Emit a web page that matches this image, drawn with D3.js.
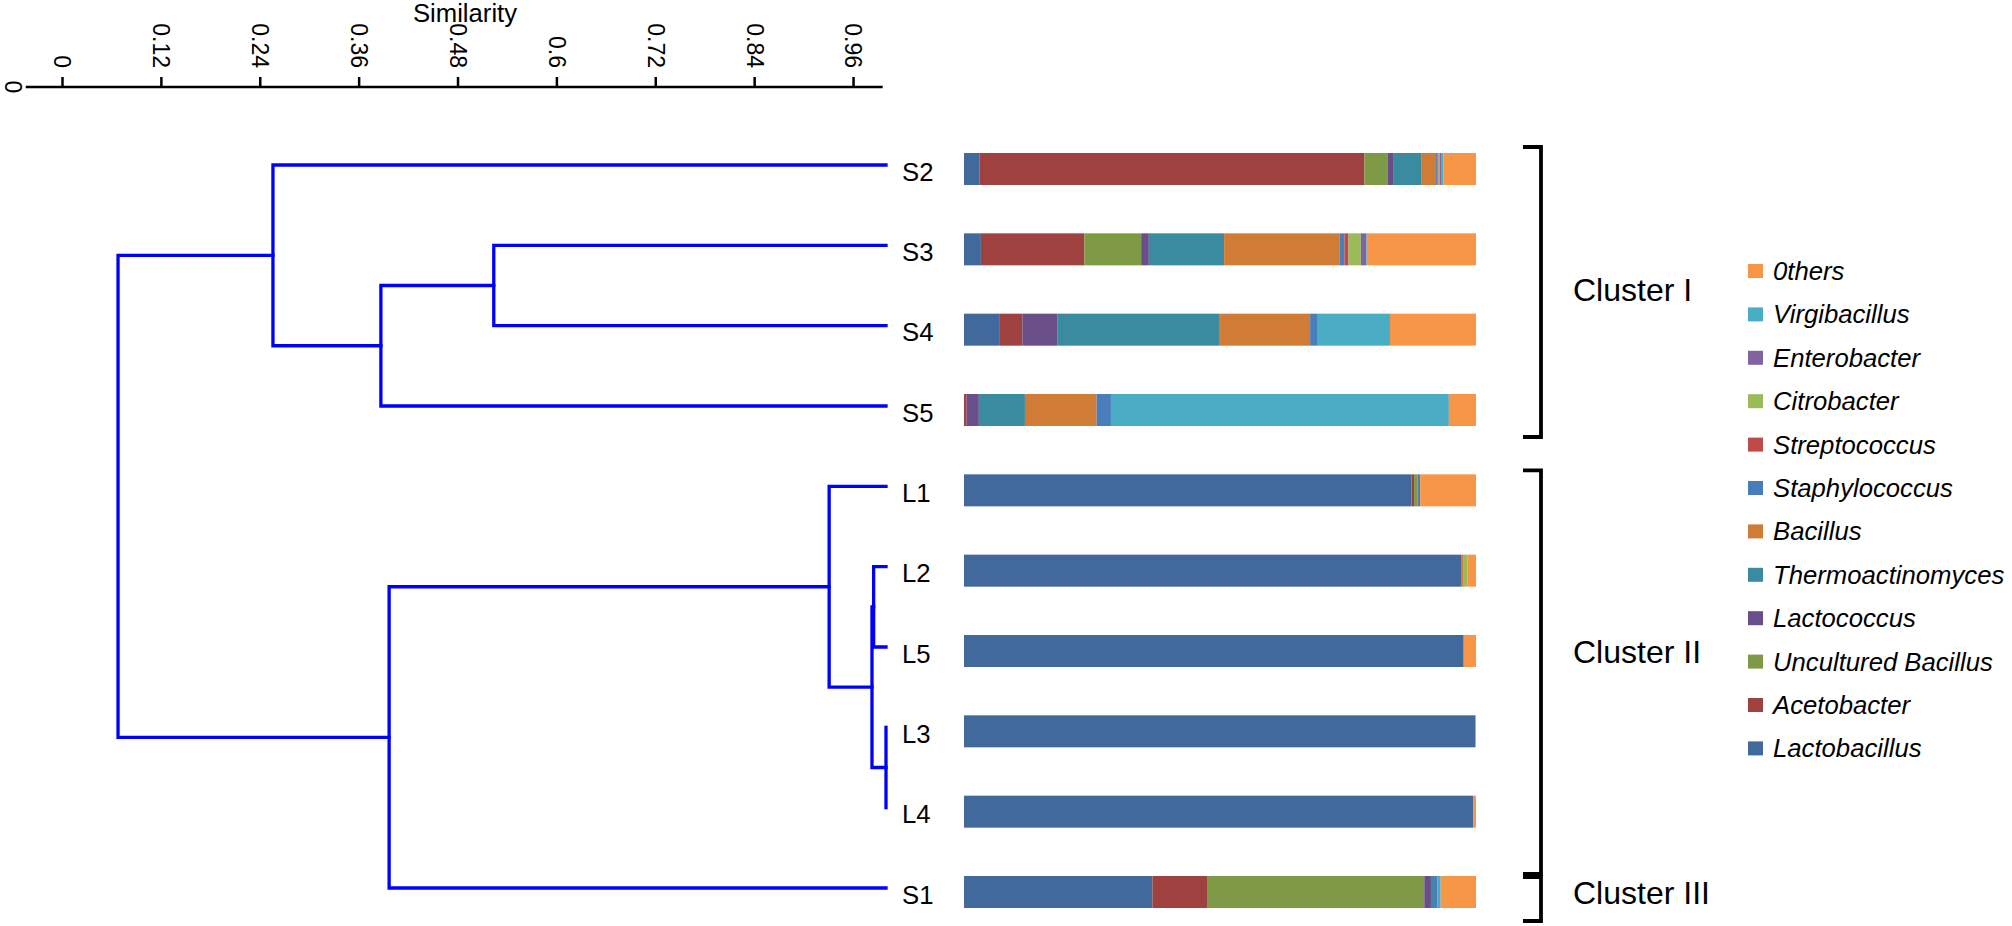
<!DOCTYPE html>
<html>
<head>
<meta charset="utf-8">
<script src="https://cdn.jsdelivr.net/npm/d3@7"></script>
<style>
  body { margin: 0; background: #fff; }
  svg { display: block; font-family: 'Liberation Sans', Arial, sans-serif; }
</style>
</head>
<body>
<div id="container"></div>
<script>
const w = 2012
const h = 926

// samples top to bottom (dendrogram leaf order)
const samples = ['S2', 'S3', 'S4', 'S5', 'L1', 'L2', 'L5', 'L3', 'L4', 'S1']

// genera in stacking order, left to right
const genera = ['Lactobacillus', 'Acetobacter', 'Uncultured Bacillus', 'Lactococcus', 'Thermoactinomyces',
  'Bacillus', 'Staphylococcus', 'Streptococcus', 'Citrobacter', 'Enterobacter', 'Virgibacillus', '0thers']
const generaColors = ['#41699c', '#9f413f', '#7e9a47', '#694e8a', '#3a8aa0',
  '#d17c36', '#4a7ebb', '#be4b48', '#9bbb59', '#8064a2', '#4bacc6', '#f79646']

// relative abundance (%), same order as genera
const S2 = [3.0, 75.2, 4.5, 1.1, 5.6, 2.8, 0.3, 0.2, 0.2, 0.4, 0.3, 6.4]
const S3 = [3.3, 20.2, 11.1, 1.5, 14.7, 22.6, 0.9, 0.8, 2.4, 1.1, 0.1, 21.3]
const S4 = [7.0, 4.4, 0, 6.8, 31.6, 17.8, 1.5, 0, 0, 0, 14.1, 16.8]
const S5 = [0, 0.5, 0, 2.4, 9.0, 14.0, 2.8, 0, 0, 0, 66.0, 5.3]
const L1 = [87.4, 0.5, 0.7, 0, 0, 0, 0.5, 0, 0, 0, 0, 10.9]
const L2 = [97.2, 0, 0, 0, 0, 0.4, 0, 0, 0.7, 0, 0, 1.7]
const L5 = [97.6, 0, 0, 0, 0, 0, 0, 0, 0, 0, 0, 2.4]
const L3 = [99.8, 0, 0, 0, 0, 0, 0, 0, 0, 0, 0, 0.2]
const L4 = [99.5, 0, 0, 0, 0, 0, 0, 0, 0, 0, 0, 0.5]
const S1 = [36.8, 10.8, 42.3, 1.3, 0.6, 0, 0.7, 0, 0, 0, 0.6, 6.9]

// similarity axis ticks
const simTicks = [0, 0.12, 0.24, 0.36, 0.48, 0.6, 0.72, 0.84, 0.96]

// dendrogram merges: [node, child a, child b, similarity]
const merges = [
  ['L34', 'L3', 'L4', 1.0],
  ['L25', 'L2', 'L5', 0.985],
  ['L2345', 'L25', 'L34', 0.983],
  ['Lall', 'L1', 'L2345', 0.931],
  ['S34', 'S3', 'S4', 0.524],
  ['S345', 'S34', 'S5', 0.387],
  ['Sgrp', 'S2', 'S345', 0.256],
  ['LS1', 'Lall', 'S1', 0.397],
  ['root', 'Sgrp', 'LS1', 0.068]
]
const leafSimilarity = 1.0

const clusterNames = ['Cluster I', 'Cluster II', 'Cluster III']
const clusterFirst = ['S2', 'L1', 'S1']
const clusterLast = ['S5', 'L4', 'S1']

const abundance = { S2, S3, S4, S5, L1, L2, L5, L3, L4, S1 }
const table = samples.map(s => {
  const row = { sample: s }
  genera.forEach((g, i) => { row[g] = abundance[s][i] })
  return row
})

const svg = d3.select('#container')
              .append('svg')
              .attr('width', w)
              .attr('height', h)

// Scales
const sim = d3.scaleLinear().domain([0, 1]).range([62, 886])
const y = d3.scalePoint().domain(samples).range([169, 892])
const pct = d3.scaleLinear().domain([0, 100]).range([964, 1476])
const color = d3.scaleOrdinal().domain(genera).range(generaColors)

// Similarity axis
const axisY = 87
const axis = svg.append('g')
   .attr('transform', 'translate(0,' + axisY + ')')
   .call(d3.axisTop(sim).tickValues(simTicks).tickSize(10).tickFormat(d => String(d)))
axis.select('.domain').remove()
axis.append('line')
   .attr('x1', sim(-0.044)).attr('x2', sim(0.996))
   .attr('stroke', '#000').attr('stroke-width', 2.5)
axis.selectAll('.tick line').attr('stroke', '#000').attr('stroke-width', 2.5)
axis.selectAll('.tick text')
   .attr('x', 0).attr('y', 0).attr('dy', '0.35em')
   .attr('transform', 'translate(0,-19) rotate(90)')
   .attr('text-anchor', 'end')
   .attr('fill', '#000')
   .style('font-size', '23px')
   .style('font-family', "'Liberation Sans', Arial, sans-serif")

svg.append('text')
   .attr('transform', 'translate(13,' + axisY + ') rotate(90)')
   .attr('text-anchor', 'middle')
   .attr('dy', '0.35em')
   .style('font-size', '23px')
   .text('0')

svg.append('text')
   .attr('x', 465).attr('y', 22)
   .attr('text-anchor', 'middle')
   .style('font-size', '25.7px')
   .text('Similarity')

// Dendrogram
const pos = {}
samples.forEach(s => { pos[s] = { x: sim(leafSimilarity), y: y(s) - 4 } })
merges.forEach(([id, a, b, s]) => {
  pos[id] = { x: sim(s), y: (pos[a].y + pos[b].y) / 2 }
})

svg.append('g')
   .selectAll('path')
   .data(merges)
   .enter()
   .append('path')
   .attr('d', ([id, a, b]) => {
     const p = pos[id], pa = pos[a], pb = pos[b]
     return 'M' + pa.x + ',' + pa.y + 'H' + p.x + 'V' + pb.y + 'H' + pb.x
   })
   .attr('fill', 'none')
   .attr('stroke', '#0000ff')
   .attr('stroke-width', 3.3)
   .attr('stroke-linecap', 'square')

svg.append('g')
   .selectAll('text')
   .data(samples)
   .enter()
   .append('text')
   .attr('x', 902)
   .attr('y', d => y(d) + 11.5)
   .style('font-size', '25.7px')
   .text(d => d)

// Stacked bars
const series = d3.stack().keys(genera)(table)
const barH = 32

svg.append('g')
   .selectAll('g')
   .data(series)
   .enter()
   .append('g')
   .attr('fill', d => color(d.key))
   .selectAll('rect')
   .data(d => d)
   .enter()
   .append('rect')
   .attr('x', d => pct(d[0]))
   .attr('width', d => pct(d[1]) - pct(d[0]))
   .attr('y', d => y(d.data.sample) - barH / 2)
   .attr('height', barH)

// Cluster brackets
const bracketTop = [y('S2') - 22, y('L1') - 20, y('S1') - 15]
const bracketBottom = [y('S5') + 27, y('S1') - 18, y('S1') + 29]
const bx = 1541

const brackets = svg.append('g')
clusterNames.forEach((name, i) => {
  brackets.append('path')
     .attr('d', 'M' + (bx - 18) + ',' + bracketTop[i] + 'H' + bx + 'V' + bracketBottom[i] + 'H' + (bx - 18))
     .attr('fill', 'none')
     .attr('stroke', '#000')
     .attr('stroke-width', 3.8)
  brackets.append('text')
     .attr('x', 1573)
     .attr('y', (y(clusterFirst[i]) + y(clusterLast[i])) / 2 + 11.5)
     .style('font-size', '32px')
     .text(name)
})

// Legend (reverse of stacking order)
const legendItems = genera.slice().reverse()
const legend = svg.append('g')
   .selectAll('g')
   .data(legendItems)
   .enter()
   .append('g')
   .attr('transform', (d, i) => 'translate(1748,' + (271 + i * 43.4) + ')')

legend.append('rect')
   .attr('x', 0).attr('y', -7)
   .attr('width', 15).attr('height', 14)
   .attr('fill', d => color(d))

legend.append('text')
   .attr('x', 25)
   .attr('y', 9)
   .style('font-size', '25.7px')
   .style('font-style', 'italic')
   .text(d => d)
</script>
</body>
</html>
